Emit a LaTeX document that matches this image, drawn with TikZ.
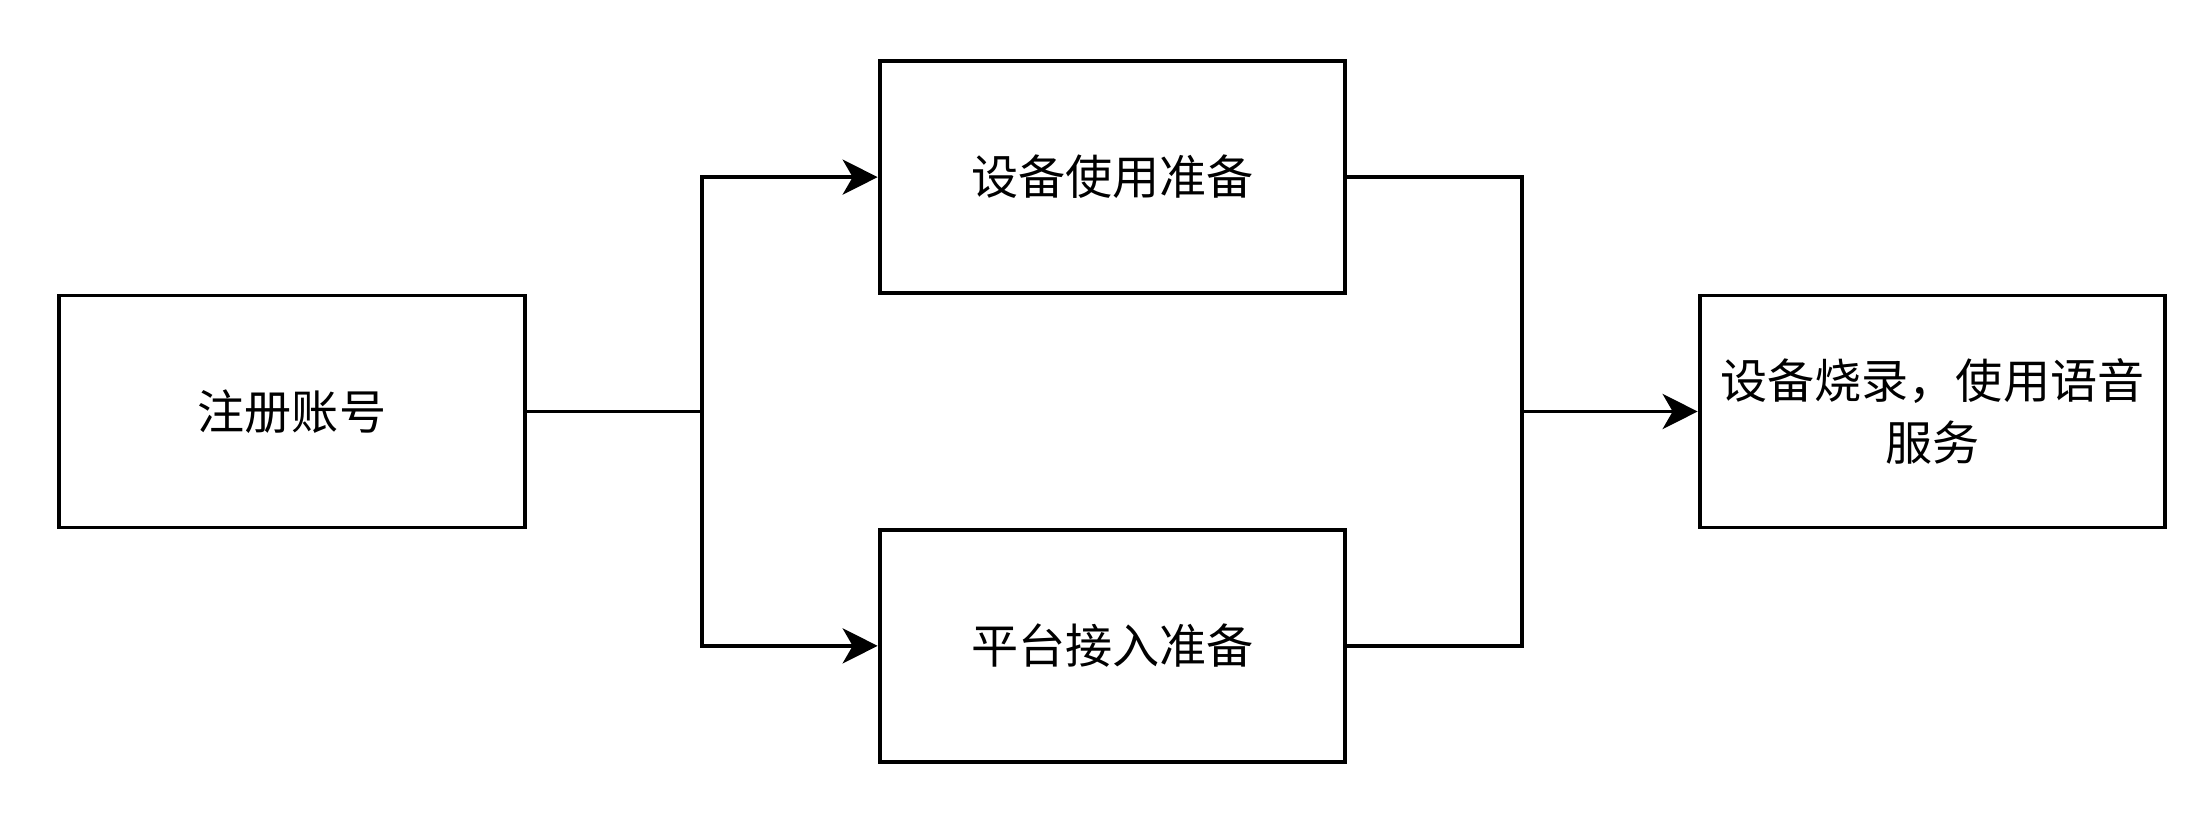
\documentclass[tikz,border=0pt]{standalone}
\usepackage{fontspec}
\setmainfont{Noto Sans CJK SC}
\usepackage{tikz}
\usetikzlibrary{arrows.meta, positioning}
\tikzstyle{stepbox} = [rectangle, minimum width=4.655cm, minimum height=2.32cm,
                       text centered, align=center, draw=black, line width=1.1pt,
                       font=\fontsize{13.4}{17.5}\selectfont]
\tikzstyle{arr}     = [-{Stealth[length=0.35cm, width=0.35cm, inset=0.1cm]}, line width=1.1pt]
\tikzstyle{wire}    = [line width=1.1pt]

\begin{document}
\begin{tikzpicture}

  \useasboundingbox (0,0) rectangle (22.1,-8.14);

  %% Start node
  \node[stepbox] (reg) at (2.92,-4.115) {注册账号};

  %% Two preparation steps
  \node[stepbox, above right=-0.015cm and 3.51cm of reg] (dev) {设备使用准备};
  \node[stepbox, below right=-0.015cm and 3.51cm of reg] (plat) {平台接入准备};

  %% Final step
  \node[stepbox, right=11.71cm of reg] (burn) {设备烧录，使用语音\\服务};

  %% Fork
  \draw[wire] (reg.east) -- ++(1.75,0) coordinate (split);
  \draw[arr] (split) |- (dev.west);
  \draw[arr] (split) |- (plat.west);

  %% Join
  \draw[wire] (dev.east) -- ++(1.75,0) coordinate (merge) |- (plat.east);
  \draw[arr] (merge |- burn.west) -- (burn.west);

\end{tikzpicture}
\end{document}
